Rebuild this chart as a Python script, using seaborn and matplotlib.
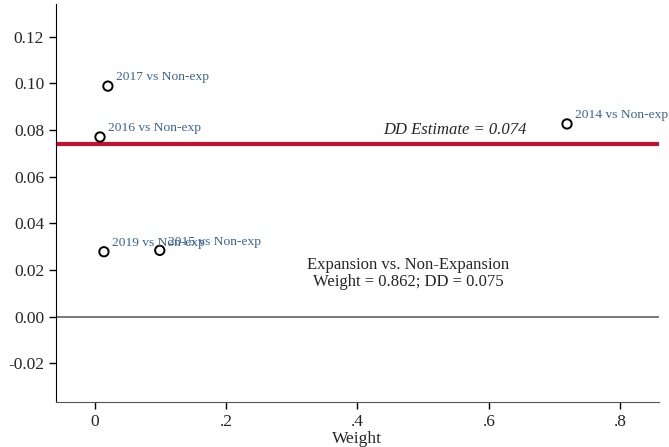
import numpy as np
import pandas as pd
import seaborn as sns
import matplotlib.pyplot as plt

# weights and 2x2 DD estimates
labels = ["2014 vs Non-exp", "2015 vs Non-exp", "2016 vs Non-exp",
          "2017 vs Non-exp", "2019 vs Non-exp"]
weights = [0.719, 0.099, 0.008, 0.020, 0.014]
estimates = [0.0826, 0.0284, 0.0770, 0.0988, 0.0278]
dd_estimate = 0.074

df = pd.DataFrame({"label": labels, "weight": weights, "dd": estimates})

sns.set_style("ticks")
plt.rcParams['font.family'] = ['Liberation Serif', 'DejaVu Serif']

fig = plt.figure(figsize=(6.69, 4.47), dpi=100)
ax = fig.add_axes([0.0837, 0.1007, 0.9013, 0.8903])

ax.axhline(0, color='#555555', lw=1.1, zorder=1)
ax.axhline(dd_estimate, color='#c8102e', lw=3, zorder=2)

sns.scatterplot(data=df, x="weight", y="dd", ax=ax, s=45, marker='o',
                facecolor='none', edgecolor='black', linewidth=1.4, zorder=3)

for _, r in df.iterrows():
    ax.annotate(r["label"], (r["weight"], r["dd"]), xytext=(6, 2),
                textcoords='offset points', ha='left', va='bottom',
                fontsize=9.7, color='#3b6390', annotation_clip=False)

ax.text(0.548, 0.0765, "DD Estimate = 0.074", style='italic', fontsize=12,
        ha='center', va='bottom')
ax.text(0.477, 0.0185, "Expansion vs. Non-Expansion\nWeight = 0.862; DD = 0.075",
        fontsize=12, ha='center', va='center', linespacing=1.05)

ax.set_xlim(-0.059, 0.859)
ax.set_ylim(-0.0366, 0.134)
ax.set_xticks([0, 0.2, 0.4, 0.6, 0.8])
ax.set_xticklabels(["0", ".2", ".4", ".6", ".8"])
ax.set_yticks([-0.02, 0, 0.02, 0.04, 0.06, 0.08, 0.10, 0.12])
ax.set_yticklabels(["-0.02", "0.00", "0.02", "0.04", "0.06", "0.08", "0.10", "0.12"])
ax.tick_params(labelsize=12.5, length=5, width=1, color='black')
ax.set_xlabel("Weight", fontsize=12.5, labelpad=1)
ax.set_ylabel("")
sns.despine(ax=ax)
ax.spines['left'].set_color('black')
ax.spines['bottom'].set_color('#555555')

fig.savefig("out.png", dpi=100)
